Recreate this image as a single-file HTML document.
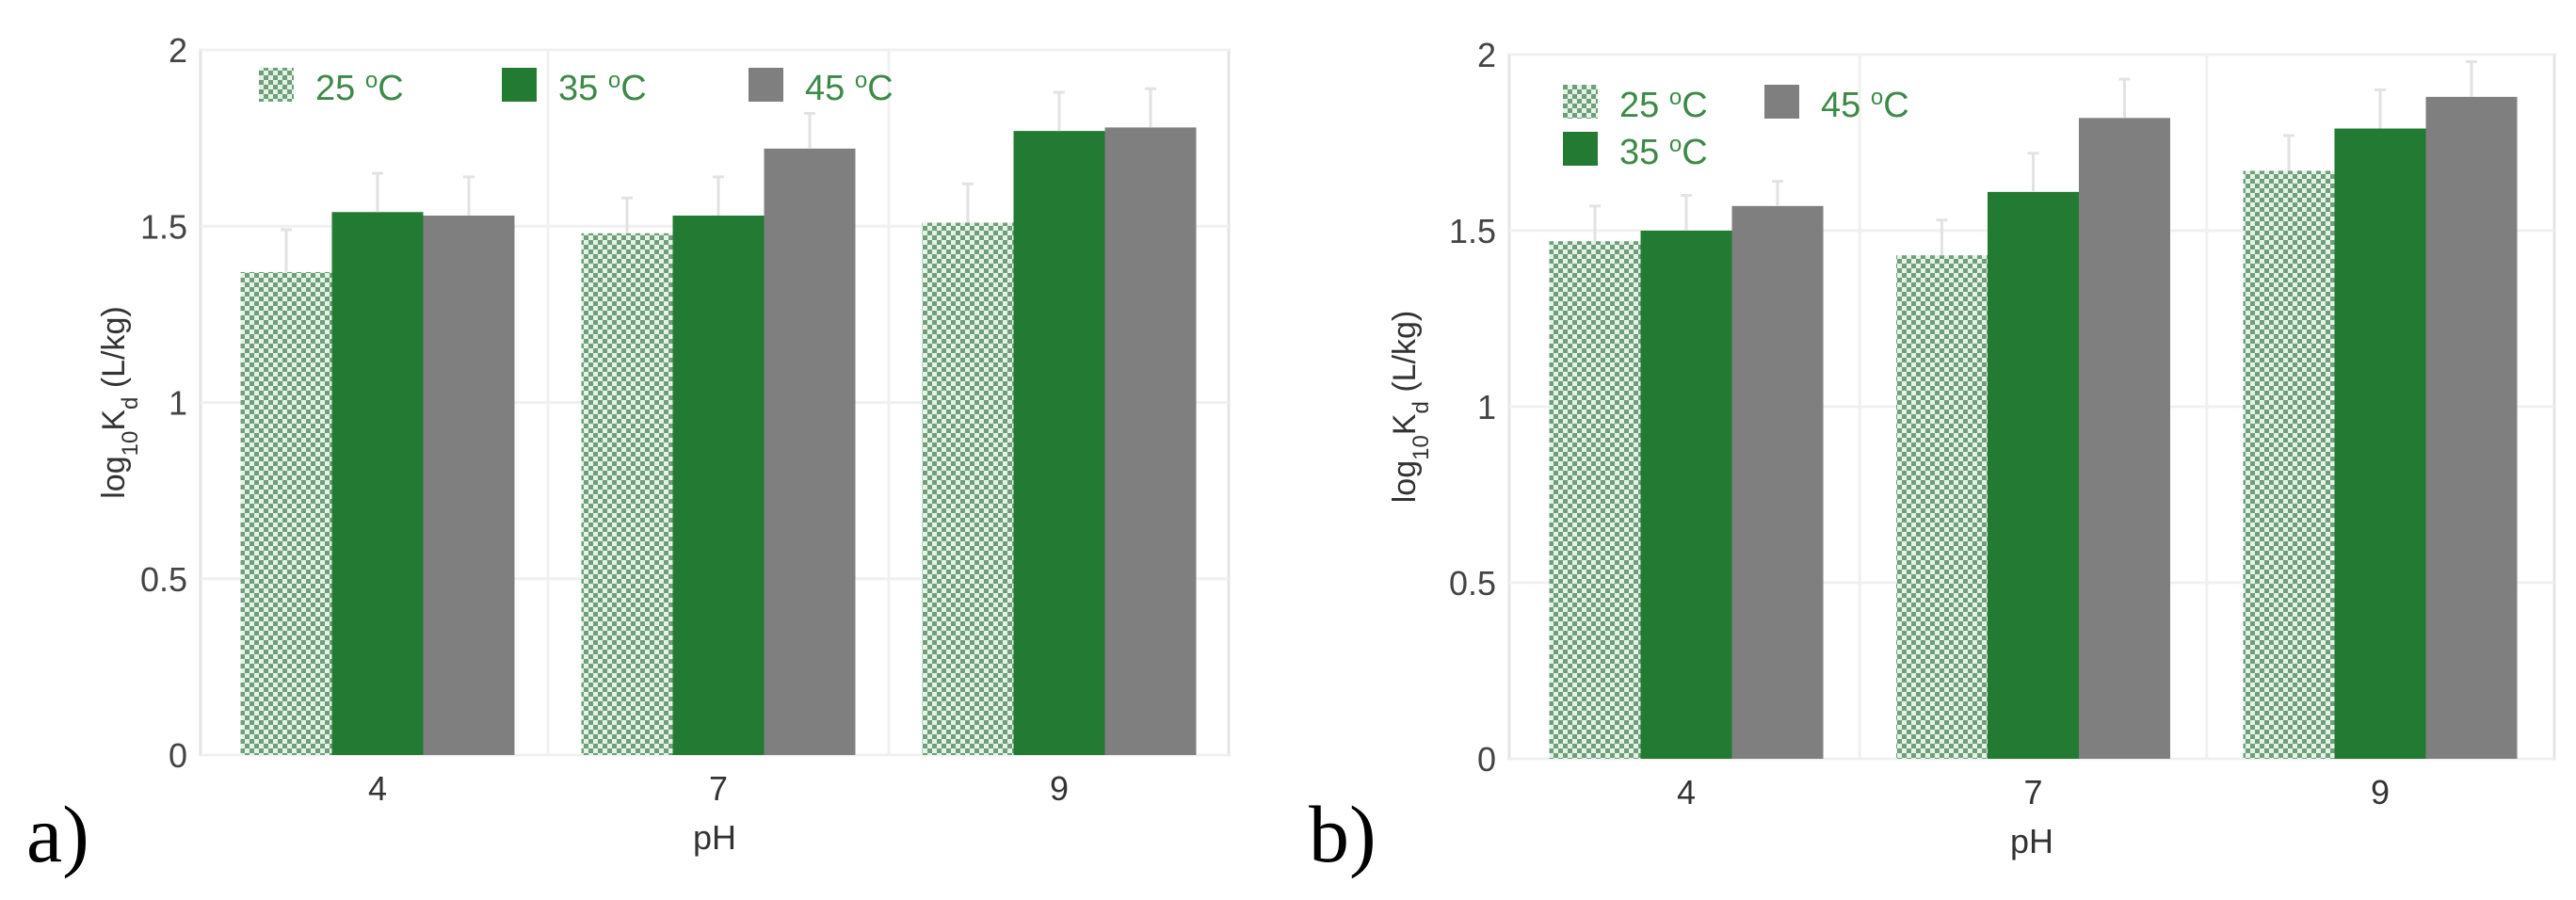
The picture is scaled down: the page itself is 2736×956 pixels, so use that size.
<!DOCTYPE html>
<html><head><meta charset="utf-8"><style>
body{margin:0;background:#fff;}
svg{display:block;}
text{font-family:"Liberation Sans",sans-serif;}
</style></head><body>
<svg id="chart" width="2736" height="956" viewBox="0 0 2736 956" xmlns="http://www.w3.org/2000/svg">
<defs>
<pattern id="chk" width="10" height="10" patternUnits="userSpaceOnUse">
<rect width="10" height="10" fill="#e6f2e8"/>
<rect width="5" height="5" fill="#6f9f7a"/>
<rect x="5" y="5" width="5" height="5" fill="#6f9f7a"/>
</pattern>
</defs>
<text x="28" y="915" font-size="86" fill="#000" style="font-family:'Liberation Serif',serif">a)</text>
<text x="1390" y="915" font-size="86" fill="#000" style="font-family:'Liberation Serif',serif">b)</text>
</svg>
<script>
const categories = ["4","7","9"];
const seriesNames = ["25 °C","35 °C","45 °C"];
const aT25 = [1.37,1.48,1.51];
const aT35 = [1.54,1.53,1.77];
const aT45 = [1.53,1.72,1.78];
const aErr25 = [0.12,0.10,0.11];
const aErr35 = [0.11,0.11,0.11];
const aErr45 = [0.11,0.10,0.11];
const bT25 = [1.47,1.43,1.67];
const bT35 = [1.50,1.61,1.79];
const bT45 = [1.57,1.82,1.88];
const bErr25 = [0.10,0.10,0.10];
const bErr35 = [0.10,0.11,0.11];
const bErr45 = [0.07,0.11,0.10];
const yTicks = [0,0.5,1,1.5,2];
const yTickLabels = ["0","0.5","1","1.5","2"];

const NS="http://www.w3.org/2000/svg";
const svg=document.getElementById('chart');
function mk(tag,attrs,parent){const e=document.createElementNS(NS,tag);for(const k in attrs)e.setAttribute(k,attrs[k]);(parent||svg).appendChild(e);return e;}
const fills=["url(#chk)","#237a32","#7f7f7f"];

function panel(id,cfg,series,errs){
  const g=mk('g',{});
  
  
  const y=v=>cfg.y0-(v/2)*(cfg.y0-cfg.top);
  const xc=i=>cfg.c0+i*cfg.step;
  const fr=mk('rect',{x:cfg.left,y:cfg.top,width:cfg.right-cfg.left,height:cfg.y0-cfg.top,fill:'none',stroke:'#e4e4e4','stroke-width':3},g);
  
  
  yTicks.forEach((t,i)=>{
    const l=mk('line',{x1:cfg.left,x2:cfg.right,y1:y(t),y2:y(t),stroke:'#f0f0f0','stroke-width':3},g);
    
    
    const tx=mk('text',{x:cfg.left-14,y:y(t)+13,'text-anchor':'end','font-size':36,fill:'#444'},g);
    tx.textContent=yTickLabels[i];
    
    
  });
  for(let i=1;i<categories.length;i++){
    const xx=(xc(i-1)+xc(i))/2;
    const l=mk('line',{x1:xx,x2:xx,y1:cfg.top,y2:cfg.y0,stroke:'#f0f0f0','stroke-width':3},g);
    
    
  }
  categories.forEach((c,i)=>{
    series.forEach((s,k)=>{
      const bx=xc(i)+(k-1.5)*cfg.bw;
      const r=mk('rect',{x:bx,y:y(s[i]),width:cfg.bw,height:cfg.y0-y(s[i]),fill:fills[k]},g);
      
      
      const ex=bx+cfg.bw/2, top=y(s[i]+errs[k][i]);
      const e=mk('path',{d:`M${ex},${y(s[i])}V${top}M${ex-6},${top}H${ex+6}`,stroke:'#e2e2e2','stroke-width':3,fill:'none'},g);
      
      
    });
    const t=mk('text',{x:xc(i),y:cfg.y0+48,'text-anchor':'middle','font-size':36,fill:'#333'},g);
    t.textContent=c;
    
    
  });
  const xt=mk('text',{x:(cfg.left+cfg.right)/2,y:cfg.y0+100,'text-anchor':'middle','font-size':36,fill:'#333'},g);
  xt.textContent='pH';
  
  
  const cy=(cfg.top+cfg.y0)/2;
  const yt=mk('text',{x:cfg.ylx,y:cy,'text-anchor':'middle','font-size':34,fill:'#333',transform:`rotate(-90 ${cfg.ylx} ${cy})`},g);
  yt.innerHTML='log<tspan baseline-shift="sub" font-size="24">10</tspan>K<tspan baseline-shift="sub" font-size="24">d</tspan> (L/kg)';
  
  
  cfg.legend.forEach((L,k)=>{
    const sw=mk('rect',{x:L[0],y:L[1],width:37,height:36,fill:fills[k]},g);
    
    
    const t=mk('text',{x:L[0]+60,y:L[1]+34,'font-size':38,fill:'#3d8a48'},g);
    t.innerHTML=seriesNames[k].replace('°','<tspan baseline-shift="super" font-size="24">o</tspan>');
    
    
  });
}
panel('panel-a',{left:213,right:1305,top:53,y0:802,c0:401,step:362,bw:97,ylx:132,
  legend:[[275,72],[533,72],[795,72]]},[aT25,aT35,aT45],[aErr25,aErr35,aErr45]);
panel('panel-b',{left:1603,right:2713,top:58,y0:806,c0:1791,step:368.5,bw:97,ylx:1503,
  legend:[[1660,90],[1660,140],[1874,90]]},[bT25,bT35,bT45],[bErr25,bErr35,bErr45]);
</script>
</body></html>
